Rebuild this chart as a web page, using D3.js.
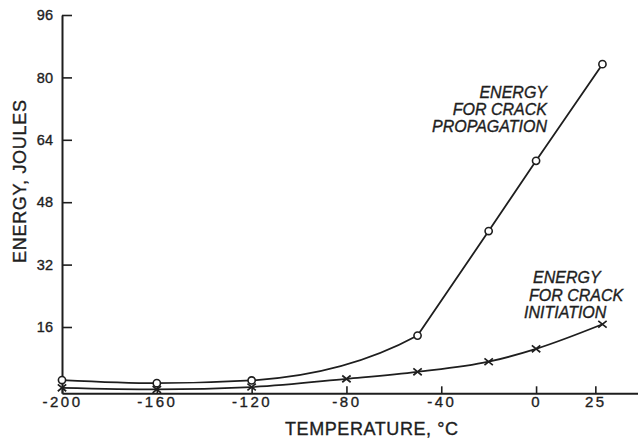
<!DOCTYPE html>
<html>
<head>
<meta charset="utf-8">
<script src="https://cdn.jsdelivr.net/npm/d3@7/dist/d3.min.js"></script>
<style>
  html, body { margin: 0; padding: 0; background: #fff; }
  svg { display: block; }
  text { font-family: "Liberation Sans", Arial, sans-serif; fill: #1e1e1e; stroke: #1e1e1e; stroke-width: 0.35px; }
</style>
</head>
<body>
<svg id="chart" width="638" height="443"></svg>
<script>
// ---- data ----
const propTemp   = [-200, -160, -120, -50, -20, 0, 28];
const propEnergy = [2.4, 1.6, 2.3, 13.8, 40.6, 58.6, 83.4];
const initTemp   = [-200, -160, -120, -80, -50, -20, 0, 28];
const initEnergy = [0.4, 0.0, 0.6, 2.7, 4.5, 7.1, 10.4, 16.7];
const xTicks = [-200, -160, -120, -80, -40, 0, 25];
const yTicks = [16, 32, 48, 64, 80, 96];
const xTitle = "TEMPERATURE, \u00B0C";
const yTitle = "ENERGY, JOULES";
const propLabel = ["ENERGY", "FOR CRACK", "PROPAGATION"];
const initLabel = ["ENERGY", "FOR CRACK", "INITIATION"];

const svg = d3.select("#chart");
const ink = "#1e1e1e";

const x = d3.scaleLinear().domain([-200, 43]).range([62, 638]);
const y = d3.scaleLinear().domain([-1, 96]).range([393.3, 15]);

// axes
const yAxis = d3.axisLeft(y).tickValues(yTicks).tickSizeInner(-10).tickSizeOuter(0).tickPadding(9)
  .tickFormat(d3.format("d"));
const gy = svg.append("g").attr("transform", `translate(${x(-200)},0)`).call(yAxis);
gy.select(".domain").attr("stroke", ink).attr("stroke-width", 2);
gy.selectAll(".tick line").attr("stroke", ink).attr("stroke-width", 1.6);
gy.selectAll(".tick text").attr("font-size", 14.5).attr("fill", ink)
  .attr("font-family", "'Liberation Sans', Arial, sans-serif");

const xAxis = d3.axisBottom(x).tickValues(xTicks).tickSizeInner(-7).tickSizeOuter(0).tickPadding(3.5)
  .tickFormat(d => (d < 0 ? "-" + Math.abs(d) : String(d)));
const gx = svg.append("g").attr("transform", `translate(0,${y(-1)})`).call(xAxis);
gx.select(".domain").attr("stroke", ink).attr("stroke-width", 2);
gx.selectAll(".tick line").attr("stroke", ink).attr("stroke-width", 1.6);
gx.selectAll(".tick text").attr("font-size", 15).attr("fill", ink).attr("letter-spacing", 2.5)
  .attr("font-family", "'Liberation Sans', Arial, sans-serif");

// axis titles
svg.append("text").text(xTitle)
  .attr("x", 285).attr("y", 435)
  .attr("font-size", 18).attr("textLength", 173).attr("lengthAdjust", "spacing");
svg.append("text").text(yTitle)
  .attr("transform", "translate(26,263) rotate(-90)")
  .attr("font-size", 18).attr("textLength", 163).attr("lengthAdjust", "spacing");

// curves
const prop = propTemp.map((t, i) => ({ t, e: propEnergy[i] }));
const init = initTemp.map((t, i) => ({ t, e: initEnergy[i] }));
const line = d3.line().x(d => x(d.t)).y(d => y(d.e));

// propagation: smooth lower portion (clipped at the -50 point), straight upper portion
const kinkIdx = propTemp.indexOf(-50);
svg.append("clipPath").attr("id", "lowClip")
  .append("rect").attr("x", 0).attr("y", 0).attr("width", x(propTemp[kinkIdx])).attr("height", 443);
svg.append("path")
  .datum(prop.slice(0, kinkIdx + 2))
  .attr("clip-path", "url(#lowClip)")
  .attr("d", line.curve(d3.curveMonotoneX))
  .attr("fill", "none").attr("stroke", ink).attr("stroke-width", 1.8);
svg.append("path")
  .datum(prop.slice(kinkIdx))
  .attr("d", line.curve(d3.curveLinear))
  .attr("fill", "none").attr("stroke", ink).attr("stroke-width", 1.8);

svg.append("path")
  .datum(init)
  .attr("d", line.curve(d3.curveMonotoneX))
  .attr("fill", "none").attr("stroke", ink).attr("stroke-width", 1.8);

// markers
svg.append("g").selectAll("circle").data(prop).join("circle")
  .attr("cx", d => x(d.t)).attr("cy", d => y(d.e)).attr("r", 3.6)
  .attr("fill", "#fff").attr("stroke", ink).attr("stroke-width", 1.6);

svg.append("g").selectAll("path").data(init).join("path")
  .attr("d", d => {
    const cx = x(d.t), cy = y(d.e), w = 4.2, h = 3.4;
    return `M${cx - w},${cy - h}L${cx + w},${cy + h}M${cx - w},${cy + h}L${cx + w},${cy - h}`;
  })
  .attr("fill", "none").attr("stroke", ink).attr("stroke-width", 1.7);

// curve labels
const pl = svg.append("text").attr("font-size", 16).attr("font-style", "italic").attr("text-anchor", "end");
propLabel.forEach((s, i) => pl.append("tspan").attr("x", 547).attr("y", 98 + i * 17).text(s));

const il = svg.append("text").attr("font-size", 16).attr("font-style", "italic").attr("text-anchor", "start");
const initX = [533, 529, 524];
initLabel.forEach((s, i) => il.append("tspan").attr("x", initX[i]).attr("y", 283 + i * 17.5).text(s));
</script>
</body>
</html>
